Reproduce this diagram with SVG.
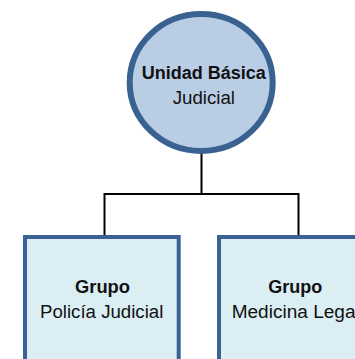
<svg xmlns="http://www.w3.org/2000/svg" width="355" height="359" viewBox="0 0 355 359">
<style>
.t{font-family:"Liberation Sans",Arial,sans-serif;font-size:18px;fill:#111}
.b{font-weight:bold}
.box{fill:#DBEEF4;stroke:#3A6394;stroke-width:4}
.circ{fill:#B9CDE5;stroke:#3A6291;stroke-width:6}
.ln{fill:none;stroke:#000;stroke-width:2}
</style>
<rect width="355" height="359" fill="#fff"/>
<g id="connectors">
<path class="ln" d="M201.5,153 V194 M104.5,194 H298.5 M104.5,193 V237 M298.5,193 V237"/>
</g>
<g id="node-unidad">
<ellipse class="circ" cx="201.2" cy="82.5" rx="71.5" ry="68.5"/>
<text class="t b" x="141.7" y="79" textLength="124" lengthAdjust="spacingAndGlyphs">Unidad Básica</text>
<text class="t" x="172.7" y="104" textLength="62.3" lengthAdjust="spacingAndGlyphs">Judicial</text>
</g>
<g id="node-policia">
<rect class="box" x="25" y="237" width="153.7" height="140"/>
<text class="t b" x="75" y="293" textLength="55" lengthAdjust="spacingAndGlyphs">Grupo</text>
<text class="t" x="40" y="318" textLength="123.3" lengthAdjust="spacingAndGlyphs">Policía Judicial</text>
</g>
<g id="node-medicina">
<rect class="box" x="219" y="237" width="154" height="140"/>
<text class="t b" x="268.3" y="293" textLength="54" lengthAdjust="spacingAndGlyphs">Grupo</text>
<text class="t" x="231.7" y="318" textLength="128" lengthAdjust="spacingAndGlyphs">Medicina Legal</text>
</g>
</svg>
